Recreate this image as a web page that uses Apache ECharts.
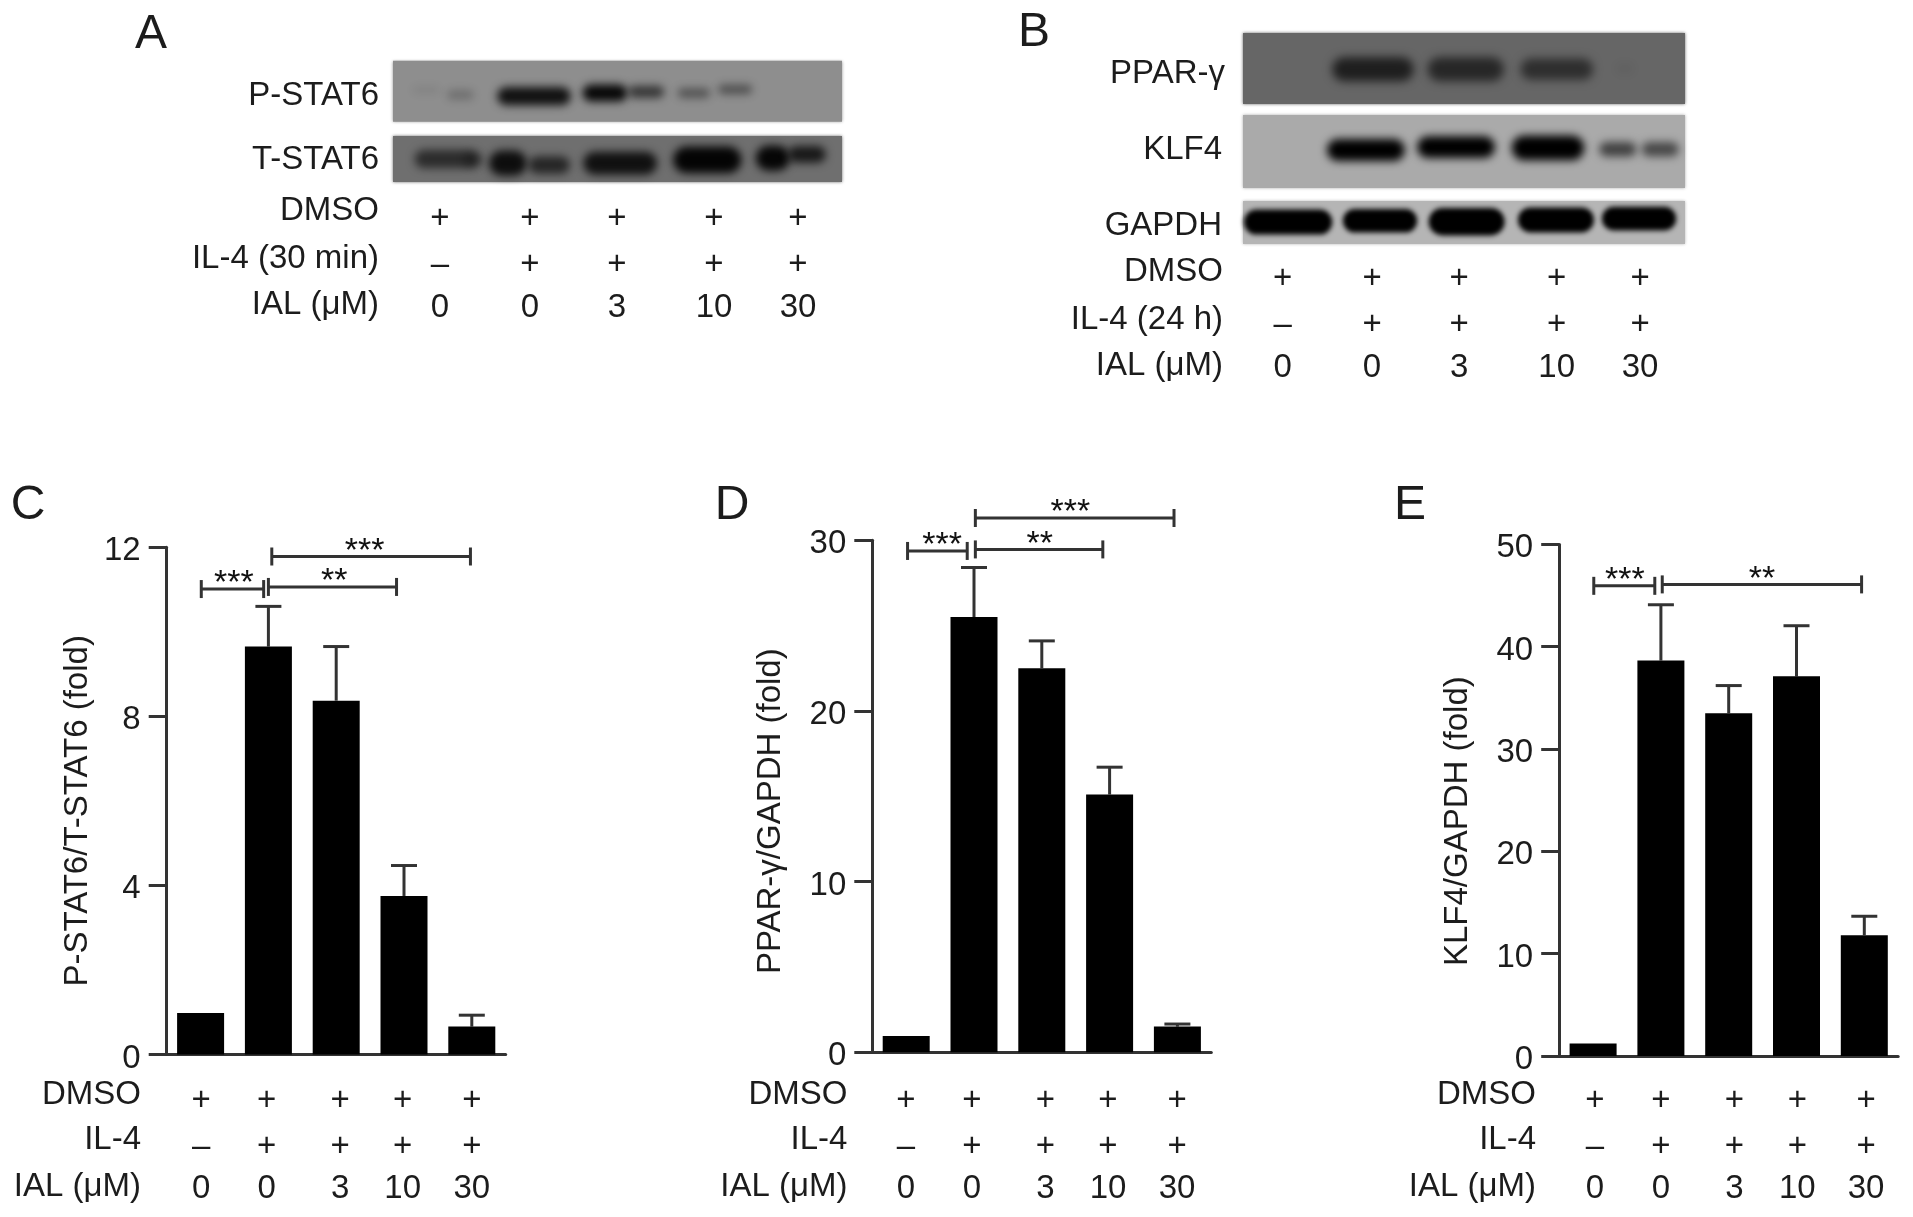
<!DOCTYPE html>
<html><head><meta charset="utf-8">
<style>html,body{margin:0;padding:0;background:#fff}#c{width:1913px;height:1217px}</style>
<script src="https://cdn.jsdelivr.net/npm/echarts@6/dist/echarts.min.js"></script>
</head><body><div id="c"></div>
<script>
// ---- data ----
const dmsoRow = ['+','+','+','+','+'];
const il4Row  = ['–','+','+','+','+'];
const ialRow  = ['0','0','3','10','30'];

const pstatValues = [0.98, 9.65, 8.37, 3.75, 0.66];
const pstatErrTop = [null, 10.6, 9.65, 4.47, 0.93];
const pstatBrackets = [[0.01,0.93,11.01,3,0.49],[1.0,2.89,11.06,2,1.97],[1.05,3.98,11.78,3,2.42]];

const pparValues = [0.95, 25.5, 22.5, 15.1, 1.5];
const pparErrTop = [null, 28.4, 24.1, 16.7, 1.65];
const pparBrackets = [[0.02,0.90,29.37,3,0.53],[1.02,2.90,29.46,2,1.97],[1.02,3.95,31.3,3,2.42]];

const klfValues = [1.2, 38.65, 33.5, 37.1, 11.8];
const klfErrTop = [null, 44.1, 36.2, 42.05, 13.65];
const klfBrackets = [[0.01,0.91,45.95,3,0.47],[1.02,3.96,46.09,2,2.49]];

// blot bands: [lane position, row fraction, length in lanes, height fraction, darkness]
const pstat6Bands = [[0.75,0.56,0.3,0.16,0.22],[0.37,0.48,0.3,0.12,0.08],[1.57,0.58,0.82,0.3,0.88],
  [2.36,0.53,0.5,0.28,0.95],[2.82,0.51,0.4,0.2,0.62],[3.35,0.53,0.36,0.16,0.42],[3.81,0.47,0.38,0.15,0.45]];
const tstat6Bands = [[0.6,0.5,0.72,0.4,0.6],[0.9,0.52,0.22,0.3,0.3],[1.28,0.59,0.42,0.55,0.88],[1.74,0.63,0.46,0.38,0.66],
  [2.53,0.59,0.82,0.5,0.85],[3.5,0.52,0.76,0.58,0.96],[4.23,0.48,0.38,0.55,0.95],[4.61,0.4,0.42,0.36,0.78]];
const pparBands = [[1.47,0.51,0.92,0.34,0.7],[2.52,0.51,0.86,0.34,0.62],[3.55,0.51,0.82,0.3,0.55],[4.32,0.5,0.2,0.15,0.06]];
const klf4Bands = [[1.39,0.48,0.88,0.3,1],[2.41,0.44,0.88,0.3,1],[3.45,0.45,0.82,0.34,1],[4.24,0.47,0.42,0.2,0.62],[4.72,0.47,0.42,0.2,0.58]];
const gapdhBands = [[0.51,0.49,1.0,0.58,1],[1.55,0.46,0.84,0.55,1],[2.53,0.48,0.86,0.64,1],[3.54,0.44,0.86,0.58,1],[4.48,0.41,0.84,0.55,1]];

// ---- layout & style ----
const FONT = '"Liberation Sans",Arial,sans-serif', INK = '#1c1c1c', LINE = '#333';
const rowNames = name => ['DMSO', name, 'IAL (μM)'];
const grids = [], xAxes = [], yAxes = [], series = [], graphics = [];

const text = (t, x, y, size, align) => graphics.push({type:'text', x, y, silent:true,
  style:{text:t, font:`${size}px ${FONT}`, fill:INK, textAlign:align, textVerticalAlign:'middle'}});

function addRows(g, cols, nudges, offsets, xRight, rowYs, names){
  cols.forEach((arr,r)=>{
    xAxes.push({type:'category', gridIndex:g, position:'bottom', offset:offsets[r],
      data:arr.map((v,i)=>{
        const n = nudges[i];
        return {value:v, textStyle:{padding:[0, n<0?-2*n:0, 0, n>0?2*n:0]}};
      }),
      axisLine:{show:false,onZero:false}, axisTick:{show:false},
      axisLabel:{interval:0, margin:0, fontFamily:FONT, fontSize:33, color:INK}});
    text(names[r], xRight, rowYs[r], 33, 'right');
  });
}

function barPanel(p){
  const g = grids.length;
  const bottom = p.top + p.height;
  grids.push({left:p.left, top:p.top, width:339, height:p.height, outerBoundsMode:'none'});
  const main = xAxes.length;
  xAxes.push({type:'category', gridIndex:g, data:ialRow.map((_,i)=>i), position:'bottom',
    axisLine:{lineStyle:{color:LINE,width:3}}, axisTick:{show:false}, axisLabel:{show:false}});
  addRows(g, [dmsoRow,il4Row,ialRow], p.nudges,
    [1097-bottom-13, 1143.9-bottom-13, 1186.6-bottom-14], p.rowRight, [1094.5,1140,1186.6], rowNames('IL-4'));
  const helper = xAxes.length;
  xAxes.push({type:'value', gridIndex:g, min:-0.5, max:4.5, show:false});
  const yi = yAxes.length;
  yAxes.push({type:'value', gridIndex:g, min:0, max:p.max, interval:p.interval,
    name:p.title, nameLocation:'middle', nameGap:p.nameGap,
    nameTextStyle:{fontFamily:FONT, fontSize:33, color:INK, padding:[0,p.nameShift*2,0,0]},
    axisLine:{show:true,onZero:false,lineStyle:{color:LINE,width:3}},
    axisTick:{show:true,length:18,lineStyle:{color:LINE,width:3}},
    axisLabel:{margin:26, formatter:v=>`{t|${v}}`,
      rich:{t:{fontFamily:FONT, fontSize:33, color:INK, padding:[8,0,0,0]}}},
    splitLine:{show:false}});
  series.push({type:'bar', xAxisIndex:main, yAxisIndex:yi, data:p.values, barWidth:47,
    itemStyle:{color:'#000'}, animation:false, silent:true});
  const errData = p.errTop.map((e,i)=>e==null?null:[i,p.values[i],e]).filter(Boolean);
  series.push({type:'custom', xAxisIndex:main, yAxisIndex:yi, data:errData, animation:false, silent:true, clip:false, z:1,
    renderItem(_, api){
      const a = api.coord([api.value(0),api.value(1)]), b = api.coord([api.value(0),api.value(2)]);
      const st = {stroke:LINE, lineWidth:3};
      return {type:'group', children:[
        {type:'line', shape:{x1:a[0],y1:a[1],x2:b[0],y2:b[1]}, style:st},
        {type:'line', shape:{x1:b[0]-13,y1:b[1],x2:b[0]+13,y2:b[1]}, style:st}]};
    }});
  series.push({type:'custom', xAxisIndex:helper, yAxisIndex:yi, data:p.brackets, animation:false, silent:true, clip:false,
    renderItem(_, api){
      const a = api.coord([api.value(0),api.value(2)]), b = api.coord([api.value(1),api.value(2)]);
      const s = api.coord([api.value(4),api.value(2)]);
      const st = {stroke:LINE, lineWidth:3};
      return {type:'group', children:[
        {type:'line', shape:{x1:a[0],y1:a[1],x2:b[0],y2:b[1]}, style:st},
        {type:'line', shape:{x1:a[0],y1:a[1]-9,x2:a[0],y2:a[1]+9}, style:st},
        {type:'line', shape:{x1:b[0],y1:b[1]-9,x2:b[0],y2:b[1]+9}, style:st},
        {type:'text', x:s[0], y:s[1]-5, style:{text:'*'.repeat(api.value(3)), font:`34px ${FONT}`, fill:'#111',
          textAlign:'center', textVerticalAlign:'middle'}}]};
    }});
}

const SHIFT = 4000; // bands are painted by their blurred shadow only, so their edges stay soft
function strip(bands, left, top, width, height, bg, blur){
  const g = grids.length;
  grids.push({left, top, width, height, show:true, backgroundColor:bg, borderWidth:0, shadowBlur:3, shadowColor:bg, outerBoundsMode:'none'});
  const xi = xAxes.length, yi = yAxes.length;
  xAxes.push({type:'value', gridIndex:g, min:0, max:5, show:false});
  yAxes.push({type:'value', gridIndex:g, min:0, max:1, inverse:true, show:false});
  series.push({type:'custom', xAxisIndex:xi, yAxisIndex:yi, data:bands, animation:false, silent:true, clip:false,
    renderItem(_, api){
      const c = api.coord([api.value(0),api.value(1)]), s = api.size([api.value(2),api.value(3)]);
      const d = api.value(4), w = Math.abs(s[0]), h = Math.abs(s[1]);
      return {type:'rect', shape:{x:c[0]-w/2-SHIFT, y:c[1]-h/2, width:w, height:h, r:h/2},
        style:{fill:'#000', shadowBlur:blur, shadowColor:`rgba(0,0,0,${d})`, shadowOffsetX:SHIFT}};
    }});
}

function rowGrid(left, width, bottomY){
  const g = grids.length;
  grids.push({left, top:bottomY-1, width, height:1, outerBoundsMode:'none'});
  yAxes.push({type:'value', gridIndex:g, min:0, max:1, show:false});
  return g;
}

// Panel A
strip(pstat6Bands, 393, 60.7, 449, 61, '#8e8e8e', 9);
strip(tstat6Bands, 393, 136, 449, 46, '#6f6f6f', 9);
text('P-STAT6', 379, 96, 33, 'right');
text('T-STAT6', 379, 160, 33, 'right');
addRows(rowGrid(395.25, 447.5, 191), [dmsoRow,il4Row,ialRow], [0,0.5,-2,5.5,0], [11,57,100], 379, [211,259,305], rowNames('IL-4 (30 min)'));

// Panel B
strip(pparBands, 1243, 33, 442, 71, '#666666', 10);
strip(klf4Bands, 1243, 115, 442, 73, '#aaaaaa', 8);
strip(gapdhBands, 1243, 201, 442, 43, '#b5b5b5', 5);
text('PPAR-γ', 1225, 74, 33, 'right');
text('KLF4', 1222, 150, 33, 'right');
text('GAPDH', 1222, 226, 33, 'right');
addRows(rowGrid(1238, 446.75, 255), [dmsoRow,il4Row,ialRow], [0,0,-2.3,5.9,0], [7.7,53.7,96.7], 1223, [272,319.5,365.7], rowNames('IL-4 (24 h)'));

// Panels C, D, E
barPanel({left:166.7, top:547.2, height:507.3, max:12, interval:4, title:'P-STAT6/T-STAT6 (fold)', nameGap:72, nameShift:10,
  values:pstatValues, errTop:pstatErrTop, brackets:pstatBrackets, nudges:[0.5,-1.7,4,-1.3,0], rowRight:141});
barPanel({left:872.3, top:540.2, height:512, max:30, interval:10, title:'PPAR-γ/GAPDH (fold)', nameGap:85, nameShift:15,
  values:pparValues, errTop:pparErrTop, brackets:pparBrackets, nudges:[-0.3,-2,3.7,-1.6,-0.3], rowRight:847.4});
barPanel({left:1559.2, top:544.4, height:511.5, max:50, interval:10, title:'KLF4/GAPDH (fold)', nameGap:85, nameShift:21,
  values:klfValues, errTop:klfErrTop, brackets:klfBrackets, nudges:[1.8,0.1,5.8,0.8,1.8], rowRight:1536});

// Panel letters
text('A', 151, 35, 48, 'center');
text('B', 1034, 33, 48, 'center');
text('C', 28, 506, 48, 'center');
text('D', 732, 506, 48, 'center');
text('E', 1410, 506, 48, 'center');

const chart = echarts.init(document.getElementById('c'), null, {renderer:'canvas'});
chart.setOption({animation:false, backgroundColor:'#fff', grid:grids, xAxis:xAxes, yAxis:yAxes, series, graphic:graphics});
</script></body></html>
